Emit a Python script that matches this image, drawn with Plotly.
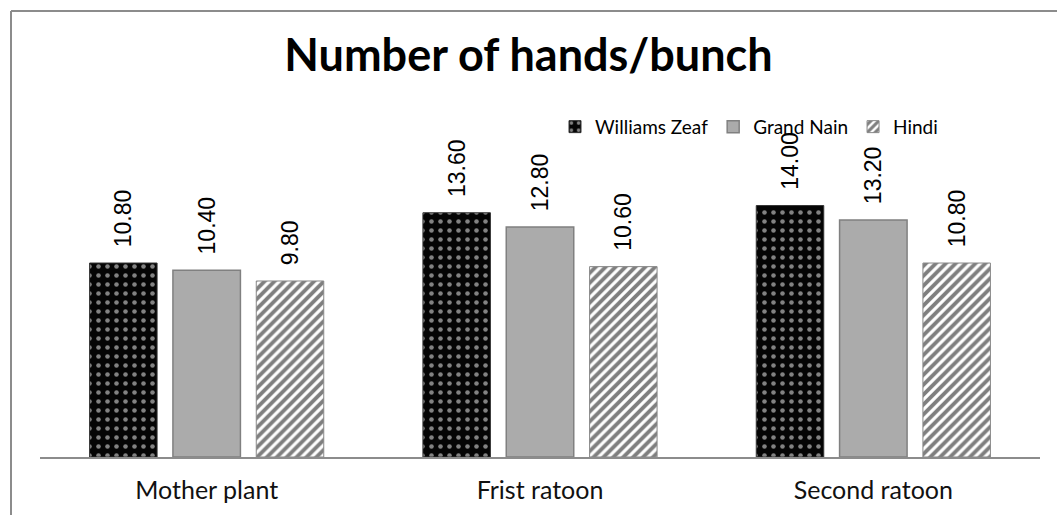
import plotly.graph_objects as go

categories = ["Mother plant", "Frist ratoon", "Second ratoon"]
williams_zeaf = [10.80, 13.60, 14.00]
grand_nain = [10.40, 12.80, 13.20]
hindi = [9.80, 10.60, 10.80]
series_names = ["Williams Zeaf", "Grand Nain", "Hindi"]

label_font = dict(family="Liberation Sans, Arial, sans-serif", size=23, color="#000000")
pad = "\u00a0\u00a0"


def labels(vals):
    return [pad + f"{v:.2f}" for v in vals]


fig = go.Figure()
fig.add_trace(go.Bar(
    name=series_names[0], x=categories, y=williams_zeaf,
    text=labels(williams_zeaf), textposition="outside", textangle=-90,
    textfont=label_font, cliponaxis=False, constraintext="none",
    marker=dict(color="#050505", line=dict(color="#333333", width=1),
                pattern=dict(shape=".", fgcolor="#ffffff", bgcolor="#050505", size=9, solidity=0.2)),
))
fig.add_trace(go.Bar(
    name=series_names[1], x=categories, y=grand_nain,
    text=labels(grand_nain), textposition="outside", textangle=-90,
    textfont=label_font, cliponaxis=False, constraintext="none",
    marker=dict(color="#ababab", line=dict(color="#808080", width=1.5)),
))
fig.add_trace(go.Bar(
    name=series_names[2], x=categories, y=hindi,
    text=labels(hindi), textposition="outside", textangle=-90,
    textfont=label_font, cliponaxis=False, constraintext="none",
    marker=dict(color="#ffffff", line=dict(color="#888888", width=1),
                pattern=dict(shape="/", fgcolor="#000000", bgcolor="#ffffff", size=7, solidity=0.55)),
))

line_col = "#8c8c8c"
fig.update_layout(
    width=1057, height=515,
    margin=dict(l=40, r=17, t=100, b=58, autoexpand=False),
    paper_bgcolor="white", plot_bgcolor="white",
    barmode="group", bargap=0.25, bargroupgap=0.19,
    title=dict(text="<b>Number of hands/bunch</b>", x=0.5, xanchor="center",
               y=1 - 55 / 515, yanchor="middle",
               font=dict(family="Lato, Noto Sans, sans-serif", size=45, color="#000000")),
    legend=dict(orientation="h", x=0.515, y=0.925, xanchor="left", yanchor="middle",
                font=dict(family="Lato, Noto Sans, sans-serif", size=19, color="#000000"),
                bgcolor="rgba(0,0,0,0)", itemwidth=30, traceorder="normal"),
    xaxis=dict(showline=True, linecolor=line_col, linewidth=2, ticks="",
               tickfont=dict(family="Lato, Noto Sans, sans-serif", size=25, color="#111111"),
               ticklabelstandoff=10, showgrid=False, automargin=False),
    yaxis=dict(range=[0, 357 / 17.96], visible=False, showgrid=False, automargin=False),
    shapes=[
        dict(type="line", xref="paper", yref="paper", x0=-0.029, x1=1.02, y0=1.249, y1=1.249,
             line=dict(color=line_col, width=2)),
        dict(type="line", xref="paper", yref="paper", x0=-0.029, x1=-0.029, y0=1.249, y1=-0.17,
             line=dict(color=line_col, width=2)),
    ],
)

fig.write_html("out.html")
